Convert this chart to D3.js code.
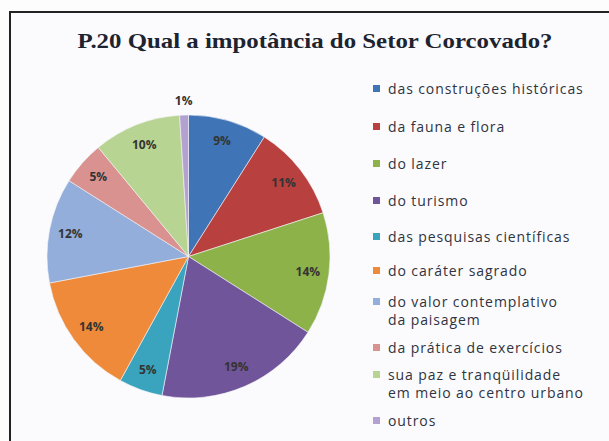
<!doctype html>
<html lang="pt">
  <head>
    <meta charset="utf-8"/>
    <title>P.20 Setor Corcovado</title>
    <script src="https://d3js.org/d3.v7.min.js"></script>
    <style>
      body { margin: 0; background: #fdfdfd; }
      svg { display: block; }
    </style>
  </head>
  <body>
    <div id="chart"></div>
    <script>
      // categories, values (%) and slice colours
      var categories = [
        ["das construções históricas"],
        ["da fauna e flora"],
        ["do lazer"],
        ["do turismo"],
        ["das pesquisas científicas"],
        ["do caráter sagrado"],
        ["do valor contemplativo", "da paisagem"],
        ["da prática de exercícios"],
        ["sua paz e tranqüilidade", "em meio ao centro urbano"],
        ["outros"]
      ];
      var values = [9, 11, 14, 19, 5, 14, 12, 5, 10, 1];
      var colors = ["#3f74b6", "#b8413f", "#8db24a", "#71559a", "#3aa3bd",
                    "#ee8a39", "#93aedb", "#d9928f", "#b8d492", "#b3a2d0"];
      var legendY = [89, 127, 164, 201, 237, 271, 302, 348, 375, 421];

      var w = 609, h = 441;
      var cx = 188.5, cy = 256.5, R = 141.5;

      var svg = d3.select("#chart")
        .append("svg")
        .attr("width", w)
        .attr("height", h);

      // frame
      svg.append("rect")
        .attr("x", 10).attr("y", 12)
        .attr("width", w + 10).attr("height", h + 10)
        .attr("fill", "#fbfbfe")
        .attr("stroke", "#222")
        .attr("stroke-width", 2);

      // title
      svg.append("text")
        .attr("x", 315).attr("y", 48)
        .attr("text-anchor", "middle")
        .attr("font-family", "'Liberation Serif', 'DejaVu Serif', serif")
        .attr("font-weight", "bold")
        .attr("font-size", "22px")
        .attr("textLength", 475)
        .attr("lengthAdjust", "spacingAndGlyphs")
        .attr("fill", "#1d2430")
        .text("P.20 Qual a impotância  do Setor Corcovado?");

      var pie = d3.pie().sort(null).value(function(d) { return d; });
      var arcs = pie(values);
      var arc = d3.arc().innerRadius(0).outerRadius(R);
      var labelArc = d3.arc().innerRadius(R * 0.85).outerRadius(R * 0.85);

      var g = svg.append("g")
        .attr("transform", "translate(" + cx + "," + cy + ")");

      g.selectAll("path")
        .data(arcs)
        .enter()
        .append("path")
        .attr("d", arc)
        .attr("fill", function(d, i) { return colors[i]; })
        .attr("stroke", "#f4f4f8")
        .attr("stroke-width", 0.6);

      g.selectAll("text")
        .data(arcs)
        .enter()
        .append("text")
        .attr("transform", function(d, i) {
          var p = labelArc.centroid(d);
          if (values[i] < 2) {
            // small slice: label outside, above the pie
            var a = (d.startAngle + d.endAngle) / 2;
            p = [Math.sin(a) * (R + 14), -Math.cos(a) * (R + 14)];
          }
          return "translate(" + p[0] + "," + p[1] + ")";
        })
        .attr("dy", "0.35em")
        .attr("text-anchor", "middle")
        .attr("font-family", "'Open Sans', Lato, sans-serif")
        .attr("font-weight", "bold")
        .attr("font-size", "12px")
        .attr("fill", "#333")
        .text(function(d) { return d.value + "%"; });

      // legend
      var leg = svg.append("g").selectAll("g")
        .data(categories)
        .enter()
        .append("g")
        .attr("transform", function(d, i) { return "translate(373," + legendY[i] + ")"; });

      leg.append("rect")
        .attr("x", 0).attr("y", -4)
        .attr("width", 7).attr("height", 7)
        .attr("fill", function(d, i) { return colors[i]; });

      // one text per line so the two-line entries stay apart
      leg.selectAll("text")
        .data(function(d) { return d; })
        .enter()
        .append("text")
        .attr("x", 15)
        .attr("y", function(d, j) { return j * 18; })
        .attr("dy", "0.35em")
        .attr("font-family", "'Open Sans', Lato, sans-serif")
        .attr("font-size", "14px")
        .attr("letter-spacing", "0.9px")
        .attr("fill", "#2f3440")
        .text(function(d) { return d; });
    </script>
  </body>
</html>
